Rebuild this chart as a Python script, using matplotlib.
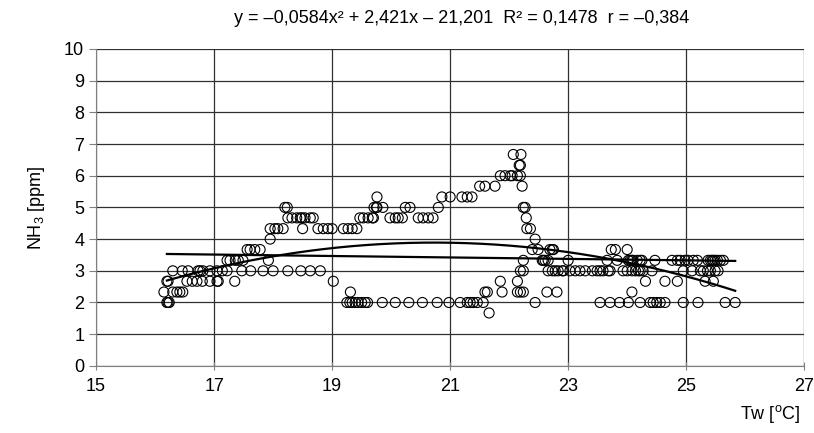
import numpy as np
import matplotlib
matplotlib.use("Agg")
import matplotlib.pyplot as plt

plt.rcParams["font.family"] = ["Liberation Sans Narrow", "Liberation Sans", "DejaVu Sans"]
plt.rcParams["mathtext.default"] = "regular"

# Tw values, grouped by NH3 level (ppm)
tw_167 = [21.66]
tw_200 = [16.20, 16.22, 16.24, 19.25, 19.30, 19.34, 19.39, 19.44, 19.50, 19.56, 19.60,
          19.85, 20.07, 20.30, 20.53, 20.78, 20.98, 21.17, 21.29, 21.34, 21.39, 21.46,
          21.56, 22.44, 23.54, 23.71, 23.87, 24.02, 24.22, 24.39, 24.44, 24.50, 24.56,
          24.64, 24.95, 25.20, 25.66, 25.83]
tw_233 = [16.15, 16.30, 16.37, 16.42, 16.47, 19.31, 21.59, 21.63, 21.88, 22.14, 22.19,
          22.24, 22.64, 22.81, 24.08]
tw_267 = [16.20, 16.22, 16.54, 16.63, 16.71, 16.80, 16.93, 17.05, 17.07, 17.35, 19.02,
          21.85, 22.14, 24.31, 24.64, 24.85, 25.32, 25.46]
tw_300 = [16.30, 16.46, 16.56, 16.73, 16.76, 16.81, 16.93, 17.05, 17.14, 17.22, 17.47,
          17.62, 17.83, 18.00, 18.25, 18.47, 18.63, 18.80, 22.19, 22.24, 22.66, 22.73,
          22.78, 22.83, 22.90, 22.92, 23.03, 23.12, 23.20, 23.29, 23.41, 23.49, 23.54,
          23.59, 23.68, 23.71, 23.93, 24.00, 24.08, 24.14, 24.19, 24.22, 24.27, 24.42,
          24.95, 25.10, 25.24, 25.29, 25.36, 25.41, 25.49, 25.54]
tw_333 = [17.22, 17.27, 17.36, 17.41, 17.49, 17.92, 22.24, 22.56, 22.58, 22.61, 22.66,
          23.00, 23.66, 23.83, 24.02, 24.05, 24.08, 24.10, 24.17, 24.22, 24.25, 24.47,
          24.76, 24.85, 24.90, 24.98, 25.03, 25.12, 25.19, 25.37, 25.41, 25.44, 25.46,
          25.49, 25.53, 25.58, 25.63]
tw_367 = [17.56, 17.61, 17.69, 17.78, 22.39, 22.49, 22.69, 22.73, 22.75, 23.73, 23.80, 24.00]
tw_400 = [17.95, 22.44]
tw_433 = [17.95, 18.03, 18.08, 18.17, 18.50, 18.76, 18.85, 18.93, 19.00, 19.19, 19.27,
          19.34, 19.42, 22.30, 22.36]
tw_467 = [18.25, 18.32, 18.40, 18.46, 18.49, 18.54, 18.63, 18.68, 19.47, 19.53, 19.61,
          19.68, 19.70, 19.98, 20.07, 20.12, 20.19, 20.46, 20.54, 20.63, 20.71, 22.29]
tw_500 = [18.20, 18.24, 19.71, 19.75, 19.76, 19.86, 20.24, 20.32, 20.80, 22.24, 22.27]
tw_533 = [19.76, 20.86, 21.00, 21.20, 21.29, 21.37]
tw_567 = [21.50, 21.59, 21.76, 22.22]
tw_600 = [21.85, 21.93, 22.02, 22.05, 22.14, 22.19]
tw_633 = [22.17, 22.19]
tw_667 = [22.07, 22.20]

levels = {1.67: tw_167, 2.0: tw_200, 2.33: tw_233, 2.67: tw_267, 3.0: tw_300,
          3.33: tw_333, 3.67: tw_367, 4.0: tw_400, 4.33: tw_433, 4.67: tw_467,
          5.0: tw_500, 5.33: tw_533, 5.67: tw_567, 6.0: tw_600, 6.33: tw_633,
          6.67: tw_667}

# trend lines
quad_coef = [-0.0584, 2.421, -21.201]
lin_coef = [-0.0228, 3.90]
x_range = [16.2, 25.83]

title_text = "y = –0,0584x² + 2,421x – 21,201  R² = 0,1478  r = –0,384"

tw = np.concatenate([np.array(v) for v in levels.values()])
nh3 = np.concatenate([np.full(len(v), k) for k, v in levels.items()])

fig = plt.figure(figsize=(8.14, 4.33), dpi=100)
ax = fig.add_axes([0.118, 0.155, 0.870, 0.732])

ax.scatter(tw, nh3, s=52, facecolors="none", edgecolors="black", linewidths=0.8, zorder=3)

xs = np.linspace(x_range[0], x_range[1], 200)
ax.plot(xs, np.polyval(quad_coef, xs), color="black", lw=1.6, zorder=4)
ax.plot(xs, np.polyval(lin_coef, xs), color="black", lw=1.6, zorder=4)

ax.set_xlim(15, 27)
ax.set_ylim(0, 10)
ax.set_xticks(np.arange(15, 28, 2))
ax.set_yticks(np.arange(0, 11, 1))
ax.grid(True, color="#303030", lw=0.9)
ax.set_axisbelow(True)

for s in ["top", "right"]:
    ax.spines[s].set_visible(False)
ax.spines["bottom"].set_color("#808080")
ax.spines["left"].set_color("#808080")
ax.tick_params(axis="x", direction="inout", length=6, color="#808080", labelsize=13, pad=6)
ax.tick_params(axis="y", direction="out", length=5, color="#808080", labelsize=13)

ax.set_ylabel("NH$_3$ [ppm]", fontsize=13, labelpad=12)
fig.text(0.983, 0.045, "Tw [$^{o}$C]", ha="right", va="center", fontsize=13)
fig.text(0.567, 0.957, title_text, ha="center", va="center", fontsize=13)

fig.savefig("out.png", dpi=100)
